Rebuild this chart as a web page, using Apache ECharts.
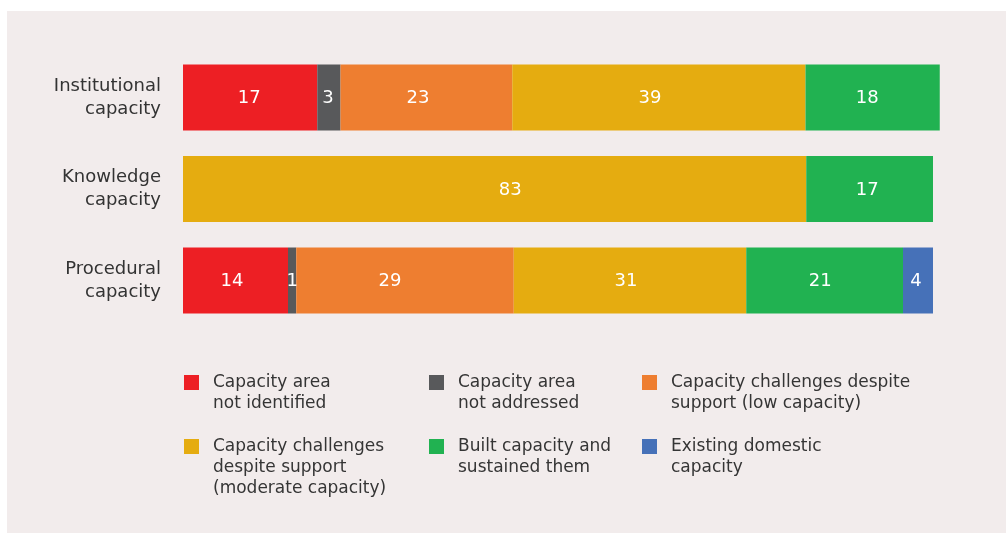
<!DOCTYPE html>
<html>
<head>
<meta charset="utf-8">
<script src="https://cdn.jsdelivr.net/npm/echarts@6/dist/echarts.min.js"></script>
<style>
html,body{margin:0;padding:0;background:#ffffff;}
#panel{position:absolute;left:7px;top:11px;width:999px;height:522px;background:#F2ECEC;}
#chart{position:absolute;left:0;top:0;width:1006px;height:533px;}
</style>
</head>
<body>
<div id="panel"></div>
<div id="chart"></div>
<script>
// Categories (top to bottom)
const categories = ['Institutional\ncapacity', 'Knowledge\ncapacity', 'Procedural\ncapacity'];

// Series names
const seriesNames = [
  'Capacity area not identified',
  'Capacity area not addressed',
  'Capacity challenges despite support (low capacity)',
  'Capacity challenges despite support (moderate capacity)',
  'Built capacity and sustained them',
  'Existing domestic capacity'
];
// Legend text as wrapped in the reference
const legendTexts = [
  'Capacity area\nnot identified',
  'Capacity area\nnot addressed',
  'Capacity challenges despite\nsupport (low capacity)',
  'Capacity challenges\ndespite support\n(moderate capacity)',
  'Built capacity and\nsustained them',
  'Existing domestic\ncapacity'
];
const seriesColors = ['#ED1F24', '#58595B', '#EE7E30', '#E5AC10', '#21B251', '#4671B8'];

// Bar lengths as drawn (per category: Institutional, Knowledge, Procedural)
const notIdentified   = [17.9, 0, 14.0];
const notAddressed    = [3.1, 0, 1.1];
const lowCapacity     = [22.9, 0, 29.0];
const moderateCap     = [39.1, 83.1, 31.0];
const builtSustained  = [17.9, 16.9, 20.9];
const existingDomestic= [0, 0, 4.0];

// Printed value labels
const lblNotIdentified   = ['17', '', '14'];
const lblNotAddressed    = ['3', '', '1'];
const lblLowCapacity     = ['23', '', '29'];
const lblModerateCap     = ['39', '83', '31'];
const lblBuiltSustained  = ['18', '17', '21'];
const lblExistingDomestic= ['', '', '4'];

const seriesValues = [notIdentified, notAddressed, lowCapacity, moderateCap, builtSustained, existingDomestic];
const seriesLabels = [lblNotIdentified, lblNotAddressed, lblLowCapacity, lblModerateCap, lblBuiltSustained, lblExistingDomestic];

// Style: horizontal nudges of value labels (px), as placed in the reference
const labelNudge = [
  [-1, 0, -3.5],
  [-1, 0, 0],
  [-8.5, 0, -15],
  [-9, 15.5, -4],
  [-5.5, -2.5, -4.5],
  [0, 0, -2]
];

const FONT = 'DejaVu Sans';
const chart = echarts.init(document.getElementById('chart'), null, {renderer: 'canvas'});

const series = seriesNames.map((name, i) => ({
  name: name,
  type: 'bar',
  stack: 'total',
  barWidth: 66,
  clip: false,
  itemStyle: {color: seriesColors[i]},
  label: {
    show: true,
    position: 'inside',
    color: '#ffffff',
    fontFamily: FONT,
    fontSize: 18,
    formatter: p => seriesLabels[i][p.dataIndex]
  },
  emphasis: {disabled: true},
  data: seriesValues[i].map((v, j) => ({
    value: v,
    label: {offset: [labelNudge[i][j], 1]}
  }))
}));

// legend placement (icon top-left)
const legendPos = [
  [184, 375], [429, 375], [642, 375],
  [184, 439], [429, 439], [642, 439]
];
const LH = 21;
const legends = seriesNames.map((name, i) => {
  const n = legendTexts[i].split('\n').length;
  // pad with empty lines above so the first real line is centred on the icon
  const txt = '\n'.repeat(n - 1) + legendTexts[i];
  const half = (2 * n - 1) * LH / 2;
  return {
    data: [name],
    left: legendPos[i][0],
    top: legendPos[i][1] + 7.5 - half,
    padding: 0,
    orient: 'vertical',
    icon: 'rect',
    itemWidth: 15,
    itemHeight: 15,
    selectedMode: false,
    formatter: () => txt,
    textStyle: {
      fontFamily: FONT,
      fontSize: 17,
      color: '#353535',
      lineHeight: LH,
      padding: [0, 0, 0, 9]
    }
  };
});

chart.setOption({
  backgroundColor: 'transparent',
  animation: false,
  grid: {left: 183, right: 73, top: 51.75, bottom: 206.75, containLabel: false},
  xAxis: {type: 'value', min: 0, max: 100, show: false},
  yAxis: {
    type: 'category',
    data: categories,
    inverse: true,
    axisLine: {show: false},
    axisTick: {show: false},
    splitLine: {show: false},
    axisLabel: {
      margin: 22,
      fontFamily: FONT,
      fontSize: 18,
      color: '#333333',
      lineHeight: 23,
      align: 'right'
    }
  },
  legend: legends,
  series: series
});
</script>
</body>
</html>
